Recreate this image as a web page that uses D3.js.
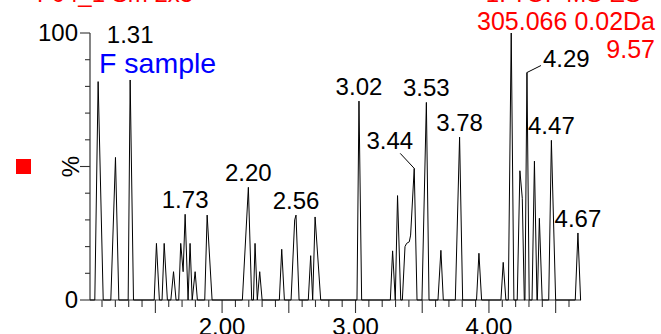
<!DOCTYPE html>
<html>
<head>
<meta charset="utf-8">
<script src="https://cdn.jsdelivr.net/npm/d3@7/dist/d3.min.js"></script>
<style>
  html, body { margin: 0; padding: 0; background: #fff; }
  svg { display: block; font-family: "Liberation Sans", Arial, sans-serif; }
</style>
</head>
<body>
<svg id="chart" width="661" height="334"></svg>
<script>
// Chromatogram trace: vertices as [retention time (min), relative intensity (%)]
const trace = [
  [1.010, 0], [1.046, 0], [1.071, 81.8], [1.109, 0],
  [1.166, 0], [1.201, 53.4], [1.226, 0],
  [1.296, 0], [1.311, 82.4], [1.336, 0],
  [1.491, 0], [1.508, 21.2], [1.530, 0],
  [1.550, 0], [1.566, 21.2], [1.590, 0],
  [1.616, 0], [1.636, 10.6], [1.655, 0],
  [1.675, 0], [1.690, 21.2], [1.708, 10.6], [1.723, 32.1], [1.745, 0],
  [1.760, 21.2], [1.776, 0], [1.798, 10.6], [1.815, 0],
  [1.870, 0], [1.888, 31.8], [1.925, 0],
  [2.152, 0], [2.197, 42.2], [2.222, 0],
  [2.235, 0], [2.247, 21.2], [2.264, 0], [2.282, 10.6], [2.300, 0],
  [2.429, 0], [2.447, 19.0], [2.467, 0],
  [2.517, 0], [2.544, 30.0], [2.554, 31.8], [2.577, 0],
  [2.646, 0], [2.664, 16.6], [2.679, 0], [2.697, 31.1], [2.739, 0],
  [3.011, 0], [3.026, 74.5], [3.046, 0],
  [3.261, 0], [3.278, 18.4], [3.298, 0], [3.315, 39.1], [3.339, 0],
  [3.351, 0], [3.371, 20.0], [3.383, 21.2], [3.403, 21.8], [3.413, 24.3], [3.440, 49.3], [3.461, 0],
  [3.498, 0], [3.531, 74.0], [3.551, 0],
  [3.618, 0], [3.640, 18.6], [3.658, 0],
  [3.748, 0], [3.780, 61.0], [3.803, 0],
  [3.907, 0], [3.925, 17.5], [3.945, 0],
  [4.090, 0], [4.107, 14.1], [4.127, 0],
  [4.145, 0], [4.167, 100], [4.187, 0],
  [4.212, 0], [4.232, 48.4], [4.250, 38.1], [4.265, 0],
  [4.270, 0], [4.285, 85.2], [4.302, 0],
  [4.323, 0], [4.341, 52.0], [4.360, 0],
  [4.363, 0], [4.378, 30.6], [4.399, 0],
  [4.448, 0], [4.468, 59.8], [4.500, 0],
  [4.647, 0], [4.667, 25.1], [4.687, 0], [4.690, 0]
];

// Annotated peak apexes and their retention-time labels
const peakTimes  = [1.311, 1.723, 2.197, 2.554, 3.026, 3.440, 3.531, 3.780, 4.285, 4.468, 4.667];
const peakLabels = ["1.31", "1.73", "2.20", "2.56", "3.02", "3.44", "3.53", "3.78", "4.29", "4.47", "4.67"];

// Axis ticks
const xLabelTicks = [2, 3, 4];
const yLabelTicks = [0, 100];

// Header texts
const sampleName = "F sample";
const headerLeft = "F04_1 Sm 2x3";
const headerRight = "1: TOF MS ES+";
const massWindow = "305.066 0.02Da";
const intensity = "9.57";

const svg = d3.select("#chart");
const x = d3.scaleLinear().domain([1.01, 4.69]).range([90, 581]);
const y = d3.scaleLinear().domain([0, 100]).range([300, 33]);

const FS = 24;

// x axis: minor ticks every 0.1 min, longer ticks every 0.5 min
const xMinor = d3.range(11, 47).map(d => d / 10);
const gx = svg.append("g").attr("transform", "translate(0,300)");
gx.append("line").attr("x1", x.range()[0]).attr("x2", x.range()[1])
  .attr("stroke", "#333").attr("stroke-width", 1.2);
gx.selectAll("line.t").data(xMinor).join("line").attr("class", "t")
  .attr("x1", d => x(d)).attr("x2", d => x(d))
  .attr("y1", 0).attr("y2", d => (Math.round(d * 10) % 5 === 0) ? 13 : 7)
  .attr("stroke", "#333").attr("stroke-width", 1.1);
gx.selectAll("text").data(xLabelTicks).join("text")
  .attr("x", d => x(d)).attr("y", 35).attr("text-anchor", "middle")
  .attr("font-size", FS).attr("fill", "#000")
  .text(d3.format(".2f"));

// y axis: ticks every 10 %, longer at 0, 50, 100
const gy = svg.append("g").attr("transform", "translate(90,0)");
gy.append("line").attr("y1", y(0)).attr("y2", y(100))
  .attr("stroke", "#333").attr("stroke-width", 1.2);
gy.selectAll("line.t").data(d3.range(0, 101, 10)).join("line").attr("class", "t")
  .attr("x1", d => (d % 50 === 0) ? -10 : -5).attr("x2", 0)
  .attr("y1", d => y(d)).attr("y2", d => y(d))
  .attr("stroke", "#333").attr("stroke-width", 1.1);
gy.selectAll("text").data(yLabelTicks).join("text")
  .attr("x", -12).attr("y", d => y(d) + 8).attr("text-anchor", "end")
  .attr("font-size", FS).attr("fill", "#000")
  .text(d => d);
svg.append("text")
  .attr("transform", `translate(79,${y(50)}) rotate(-90)`)
  .attr("text-anchor", "middle").attr("font-size", FS).attr("fill", "#000")
  .text("%");

// trace
svg.append("path").datum(trace)
  .attr("d", d3.line().x(d => x(d[0])).y(d => y(d[1])))
  .attr("fill", "none").attr("stroke", "#000").attr("stroke-width", 1)
  .attr("stroke-linejoin", "miter");

// peak labels; a few are moved aside with a leader line
const nudge = {
  "1.31": { dx: 0, dy: -37, anchor: "middle" },
  "3.44": { dx: -1, dy: -19, anchor: "end", leader: [-14, -15] },
  "4.29": { dx: 16, dy: -6, anchor: "start", leader: [14, -7] }
};
peakTimes.forEach((t, i) => {
  const v = trace.find(p => Math.abs(p[0] - t) < 1e-6);
  const px = x(t), py = y(v[1]);
  const n = nudge[peakLabels[i]] || { dx: 0, dy: -6, anchor: "middle" };
  if (n.leader) {
    svg.append("line").attr("x1", px).attr("y1", py)
      .attr("x2", px + n.leader[0]).attr("y2", py + n.leader[1])
      .attr("stroke", "#000").attr("stroke-width", 1);
  }
  svg.append("text").attr("x", px + n.dx).attr("y", py + n.dy)
    .attr("text-anchor", n.anchor).attr("font-size", FS).attr("fill", "#000")
    .text(peakLabels[i]);
});

// sample name
svg.append("text").attr("x", 99).attr("y", 73)
  .attr("font-size", 28.5).attr("fill", "#0000ff").text(sampleName);

// red header block (top line runs off the top edge)
svg.append("text").attr("x", 37).attr("y", 1.5)
  .attr("font-size", FS).attr("fill", "#ff0000").text(headerLeft);
svg.append("text").attr("x", 655).attr("y", 1.5).attr("text-anchor", "end")
  .attr("font-size", FS).attr("fill", "#ff0000").text(headerRight);
svg.append("text").attr("x", 655).attr("y", 30).attr("text-anchor", "end")
  .attr("font-size", 25).attr("fill", "#ff0000").text(massWindow);
svg.append("text").attr("x", 655).attr("y", 58).attr("text-anchor", "end")
  .attr("font-size", 25).attr("fill", "#ff0000").text(intensity);

// channel marker
svg.append("rect").attr("x", 16).attr("y", 159).attr("width", 15).attr("height", 15)
  .attr("fill", "#ff0000");
</script>
</body>
</html>
